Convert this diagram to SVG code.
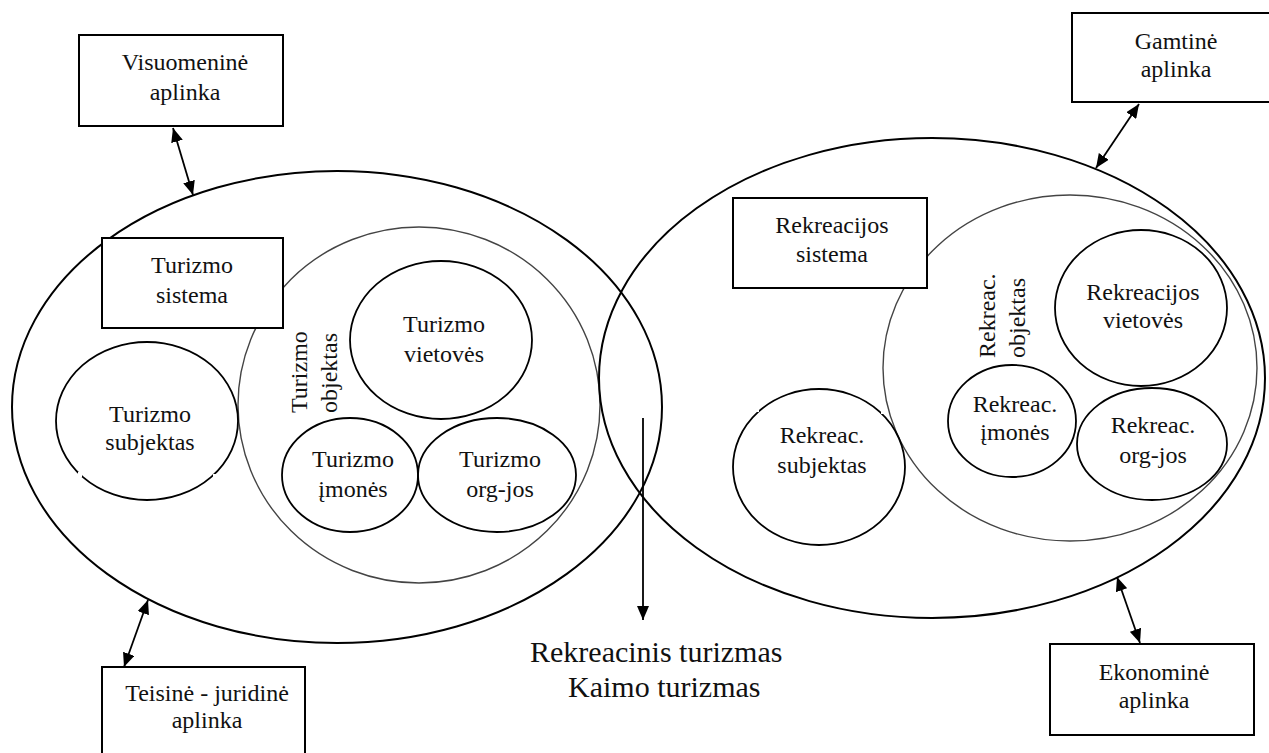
<svg xmlns="http://www.w3.org/2000/svg" width="1269" height="753" viewBox="0 0 1269 753">
<style>
text{font-family:"Liberation Serif","Times New Roman",serif;font-size:24px;fill:#111;text-anchor:middle}
.big{fill:none;stroke:#000;stroke-width:2}
.inner{fill:none;stroke:#444;stroke-width:1.4}
.el{fill:none;stroke:#000;stroke-width:1.8}
.box{fill:#fff;stroke:#000;stroke-width:2}
.con{fill:none;stroke:#000;stroke-width:1.8}
.gap{fill:#fff}
.st{text-anchor:start}
.lab{font-size:30px;text-anchor:start}
</style>
<defs>
<marker id="ah" markerUnits="userSpaceOnUse" markerWidth="14" markerHeight="12" refX="14" refY="6" orient="auto-start-reverse" viewBox="0 0 14 12">
<path d="M0,0 L14,6 L0,12 z" fill="#000"/>
</marker>
</defs>
<rect width="1269" height="753" fill="#fff"/>
<g id="turizmo-sistema-area">
<ellipse class="big" cx="337" cy="407" rx="325" ry="236"/>
<ellipse class="inner" cx="419" cy="405" rx="181" ry="178"/>
</g>
<g id="rekreacijos-sistema-area">
<ellipse class="big" cx="932" cy="378" rx="333" ry="240"/>
<ellipse class="inner" cx="1070" cy="368" rx="187" ry="173"/>
</g>
<g id="connectors">
<line class="con" x1="173" y1="128" x2="193" y2="195" marker-start="url(#ah)" marker-end="url(#ah)"/>
<line class="con" x1="1139" y1="104" x2="1096" y2="168" marker-start="url(#ah)" marker-end="url(#ah)"/>
<line class="con" x1="148" y1="600" x2="124" y2="667" marker-start="url(#ah)" marker-end="url(#ah)"/>
<line class="con" x1="1117" y1="577" x2="1140" y2="643" marker-start="url(#ah)" marker-end="url(#ah)"/>
<line class="con" x1="643" y1="418" x2="643" y2="620" marker-end="url(#ah)"/>
</g>
<g id="turizmo-subjektas">
<ellipse class="el" cx="147" cy="421" rx="91" ry="79"/>
<rect class="gap" x="78" y="472" width="4" height="5"/>
<rect class="gap" x="213" y="474" width="4" height="5"/>
<text x="150" y="422">Turizmo</text>
<text x="150" y="450">subjektas</text>
</g>
<g id="turizmo-vietoves">
<ellipse class="el" cx="441" cy="340" rx="91" ry="79"/>
<text x="444" y="332">Turizmo</text>
<text x="444" y="362">vietovės</text>
</g>
<g id="turizmo-imones">
<ellipse class="el" cx="350" cy="475" rx="68" ry="57"/>
<text x="353" y="467">Turizmo</text>
<text x="353" y="497">įmonės</text>
</g>
<g id="turizmo-orgjos">
<ellipse class="el" cx="497" cy="475" rx="79" ry="57"/>
<text x="500" y="467">Turizmo</text>
<text x="500" y="497">org-jos</text>
</g>
<g id="turizmo-objektas">
<text class="st" transform="translate(307,413) rotate(-90)">Turizmo</text>
<text class="st" transform="translate(337,413) rotate(-90)">objektas</text>
</g>
<g id="turizmo-sistema">
<rect class="box" x="102" y="238" width="181" height="90"/>
<text x="192" y="273">Turizmo</text>
<text x="192" y="303">sistema</text>
</g>
<g id="rekreac-subjektas">
<ellipse class="el" cx="819" cy="467" rx="86" ry="78"/>
<rect class="gap" x="755" y="407" width="4" height="5"/>
<rect class="gap" x="881" y="409" width="4" height="5"/>
<text x="822" y="443">Rekreac.</text>
<text x="822" y="473">subjektas</text>
</g>
<g id="rekreacijos-vietoves">
<ellipse class="el" cx="1141" cy="308" rx="86" ry="78"/>
<text x="1143" y="300">Rekreacijos</text>
<text x="1143" y="328">vietovės</text>
</g>
<g id="rekreac-imones">
<ellipse class="el" cx="1012" cy="421" rx="64" ry="56"/>
<text x="1015" y="412">Rekreac.</text>
<text x="1015" y="440">įmonės</text>
</g>
<g id="rekreac-orgjos">
<ellipse class="el" cx="1152" cy="444" rx="75" ry="56"/>
<text x="1153" y="433">Rekreac.</text>
<text x="1153" y="463">org-jos</text>
</g>
<g id="rekreac-objektas">
<text class="st" transform="translate(995,358) rotate(-90)">Rekreac.</text>
<text class="st" transform="translate(1025,358) rotate(-90)">objektas</text>
</g>
<g id="rekreacijos-sistema">
<rect class="box" x="733" y="198" width="194" height="90"/>
<text x="832" y="233">Rekreacijos</text>
<text x="832" y="262">sistema</text>
</g>
<g id="visuomenine-aplinka">
<rect class="box" x="79" y="35" width="204" height="91"/>
<text x="185" y="70">Visuomeninė</text>
<text x="185" y="100">aplinka</text>
</g>
<g id="gamtine-aplinka">
<rect class="box" x="1072" y="13" width="215" height="89"/>
<text x="1176" y="49">Gamtinė</text>
<text x="1176" y="77">aplinka</text>
</g>
<g id="teisine-juridine-aplinka">
<rect class="box" x="102" y="667" width="203" height="100"/>
<text x="207" y="701">Teisinė - juridinė</text>
<text x="207" y="728">aplinka</text>
</g>
<g id="ekonomine-aplinka">
<rect class="box" x="1050" y="644" width="204" height="91"/>
<text x="1154" y="680">Ekonominė</text>
<text x="1154" y="708">aplinka</text>
</g>
<g id="bottom-label">
<text class="lab" x="530" y="662">Rekreacinis turizmas</text>
<text class="lab" x="568" y="697">Kaimo turizmas</text>
</g>
</svg>
